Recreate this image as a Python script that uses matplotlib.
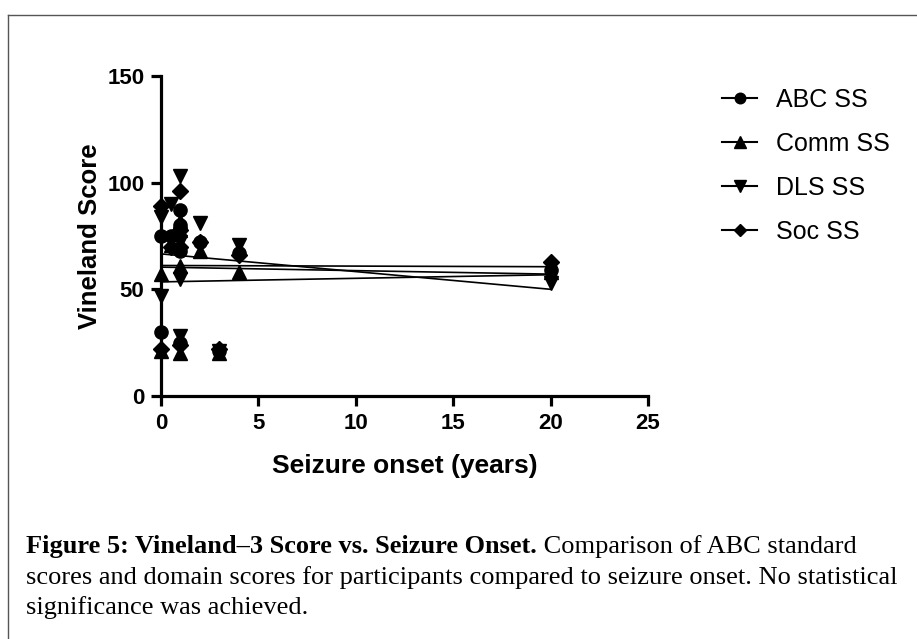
import matplotlib.pyplot as plt
import numpy as np
from matplotlib.lines import Line2D

# seizure onset (years), one entry per participant
onset = [0, 0, 0.5, 1, 1, 1, 1, 2, 3, 4, 20]

# Vineland-3 standard scores
abc_ss = [75, 30, 75, 87, 80, 68, 25, 72, 21, 67, 59]
comm_ss = [57, 21, 71, 82, 78, 61, 20, 68, 20, 58, 58]
dls_ss = [84, 47, 90, 103, 72, 55, 28, 81, 21, 71, 53]
soc_ss = [89, 22, 70, 96, 78, 70, 24, 72, 22, 66, 63]

series_names = ["ABC SS", "Comm SS", "DLS SS", "Soc SS"]
series_values = [abc_ss, comm_ss, dls_ss, soc_ss]
markers = ["o", "^", "v", "D"]
msizes = [9.5, 10, 10, 8]

x_ticks = [0, 5, 10, 15, 20, 25]
y_ticks = [0, 50, 100, 150]

W, H = 917, 639
fig = plt.figure(figsize=(W / 100, H / 100), dpi=100)

# axes placed in pixel terms of the reference
x0, x1 = 161, 648
y0, y1 = 396, 76
ax = fig.add_axes([x0 / W, 1 - y0 / H, (x1 - x0) / W, (y0 - y1) / H])
ax.set_xlim(0, 25)
ax.set_ylim(0, 150)

x = np.array(onset, dtype=float)
handles = []
for name, vals, m, ms in zip(series_names, series_values, markers, msizes):
    y = np.array(vals, dtype=float)
    ax.plot(x, y, linestyle="none", marker=m, markersize=ms, color="black",
            clip_on=False, zorder=3)
    # linear fit over the data range
    slope, icpt = np.polyfit(x, y, 1)
    xs = np.array([x.min(), x.max()])
    ax.plot(xs, icpt + slope * xs, color="black", linewidth=1.2, zorder=2)
    handles.append(Line2D([0], [0], color="black", linewidth=1.5, marker=m,
                          markersize=ms * 0.8, label=name))

for side in ["top", "right"]:
    ax.spines[side].set_visible(False)
for side in ["left", "bottom"]:
    ax.spines[side].set_linewidth(2.3)

ax.set_xticks(x_ticks)
ax.set_yticks(y_ticks)
ax.tick_params(axis="both", length=7, width=2.3, labelsize=16, pad=5)
for lab in ax.get_xticklabels() + ax.get_yticklabels():
    lab.set_fontweight("bold")
    lab.set_fontfamily("Liberation Sans")

ax.set_xlabel("Seizure onset (years)", fontsize=19, fontweight="bold",
              fontfamily="Liberation Sans", labelpad=15)
ax.set_ylabel("Vineland Score", fontsize=18.5, fontweight="bold",
              fontfamily="Liberation Sans", labelpad=4)

fig.legend(handles=handles, loc="upper left",
           bbox_to_anchor=(722 / W, 1 - 88 / H), frameon=False,
           prop={"family": "Liberation Sans", "size": 18},
           handlelength=1.4, handletextpad=0.75, labelspacing=0.8,
           borderpad=0, borderaxespad=0)

# caption: bold lead-in followed by regular text
cap_font = "Liberation Serif"
cap_size = 19
t1 = fig.text(26 / W, 1 - 553 / H, "Figure 5: Vineland\u20133 Score vs. Seizure Onset.",
              fontsize=cap_size, fontweight="bold", fontfamily=cap_font,
              ha="left", va="baseline")
ax.annotate(" Comparison of ABC standard", xy=(1, 0), xycoords=t1,
            fontsize=cap_size, fontfamily=cap_font, ha="left", va="bottom",
            annotation_clip=False)
fig.text(26 / W, 1 - 584 / H,
         "scores and domain scores for participants compared to seizure onset. No statistical",
         fontsize=cap_size, fontfamily=cap_font, ha="left", va="baseline")
fig.text(26 / W, 1 - 614 / H, "significance was achieved.",
         fontsize=cap_size, fontfamily=cap_font, ha="left", va="baseline")

# thin frame around the figure (left and top edges visible)
fig.add_artist(Line2D([8 / W, 8 / W], [0, 1 - 15 / H], color="#555555",
                      linewidth=1, transform=fig.transFigure))
fig.add_artist(Line2D([8 / W, 1], [1 - 15 / H, 1 - 15 / H], color="#555555",
                      linewidth=1, transform=fig.transFigure))

fig.savefig("out.png", dpi=100, facecolor="white")
